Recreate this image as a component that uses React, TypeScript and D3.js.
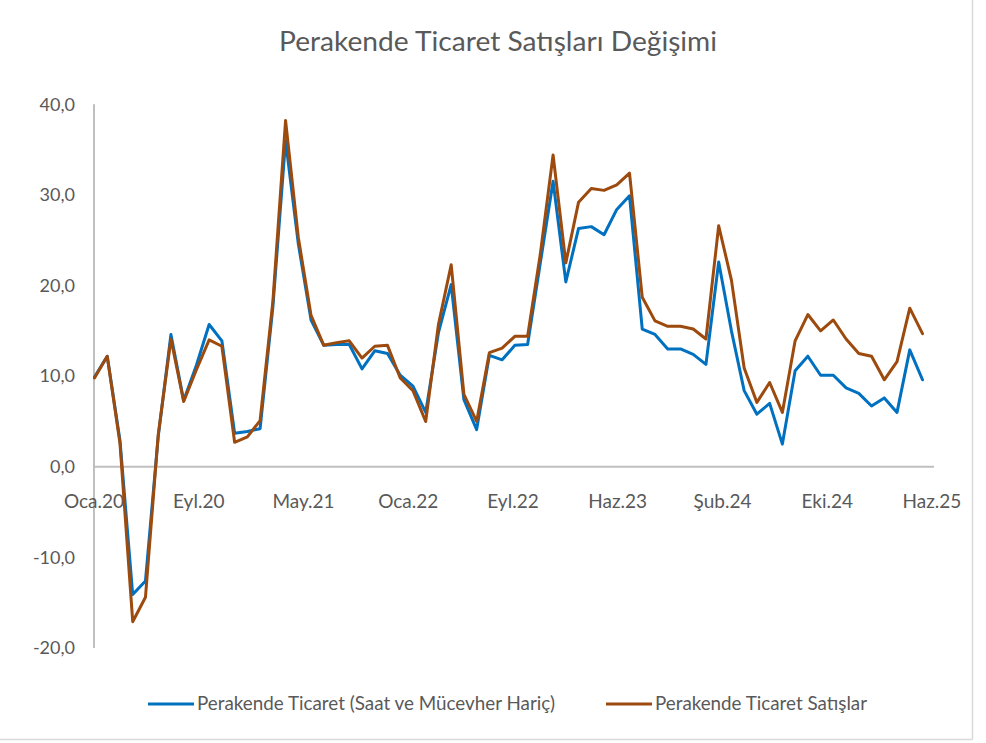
import React from "react";
import * as d3 from "d3";

const categories: string[] = [
  "Oca.20","Şub.20","Mar.20","Nis.20","May.20","Haz.20","Tem.20","Ağu.20","Eyl.20","Eki.20","Kas.20","Ara.20",
  "Oca.21","Şub.21","Mar.21","Nis.21","May.21","Haz.21","Tem.21","Ağu.21","Eyl.21","Eki.21","Kas.21","Ara.21",
  "Oca.22","Şub.22","Mar.22","Nis.22","May.22","Haz.22","Tem.22","Ağu.22","Eyl.22","Eki.22","Kas.22","Ara.22",
  "Oca.23","Şub.23","Mar.23","Nis.23","May.23","Haz.23","Tem.23","Ağu.23","Eyl.23","Eki.23","Kas.23","Ara.23",
  "Oca.24","Şub.24","Mar.24","Nis.24","May.24","Haz.24","Tem.24","Ağu.24","Eyl.24","Eki.24","Kas.24","Ara.24",
  "Oca.25","Şub.25","Mar.25","Nis.25","May.25","Haz.25",
];

const haricValues: number[] = [
  9.9, 12.2, 2.9, -14.1, -12.6, 3.3, 14.6, 7.3, 11.2, 15.7,
  13.9, 3.7, 3.9, 4.2, 17.6, 36.0, 24.6, 16.2, 13.4, 13.5,
  13.5, 10.8, 12.8, 12.5, 10.1, 8.9, 6.0, 14.8, 20.1, 7.4,
  4.1, 12.3, 11.8, 13.4, 13.5, 22.5, 31.5, 20.4, 26.3, 26.5,
  25.6, 28.4, 29.9, 15.2, 14.6, 13.0, 13.0, 12.4, 11.3, 22.6,
  15.0, 8.4, 5.8, 7.0, 2.5, 10.6, 12.2, 10.1, 10.1, 8.7,
  8.1, 6.7, 7.6, 6.0, 12.9, 9.6,
];

const satisValues: number[] = [
  9.8, 12.2, 2.6, -17.1, -14.4, 3.5, 14.1, 7.2, 10.7, 14.0,
  13.3, 2.7, 3.3, 5.1, 18.2, 38.2, 25.3, 16.7, 13.4, 13.7,
  13.9, 12.0, 13.3, 13.4, 9.8, 8.4, 5.0, 15.7, 22.3, 8.0,
  5.0, 12.6, 13.1, 14.4, 14.4, 23.5, 34.4, 22.5, 29.2, 30.7,
  30.5, 31.1, 32.4, 18.7, 16.1, 15.5, 15.5, 15.2, 14.1, 26.6,
  20.6, 10.9, 7.1, 9.3, 6.0, 13.9, 16.8, 15.0, 16.2, 14.1,
  12.5, 12.2, 9.6, 11.6, 17.5, 14.7,
];

const xTickLabels: string[] = ["Oca.20","Eyl.20","May.21","Oca.22","Eyl.22","Haz.23","Şub.24","Eki.24","Haz.25"];
const yTicks: number[] = [40, 30, 20, 10, 0, -10, -20];

const seriesNames: string[] = [
  "Perakende Ticaret (Saat ve Mücevher Hariç)",
  "Perakende Ticaret Satışlar",
];

const title = "Perakende Ticaret Satışları Değişimi";

const W = 986;
const H = 743;
const FONT = "Lato, 'Open Sans', sans-serif";
const TEXT = "#595959";
const AXIS = "#BFBFBF";
const BORDER = "#D9D9D9";
const BLUE = "#0070C0";
const BROWN = "#9C4A0E";

export default function App() {
  const x = d3.scalePoint<string>().domain(categories).range([94.5, 922.5]);
  const xLab = d3.scalePoint<string>().domain(xTickLabels).range([94, 932]);
  const y = d3.scaleLinear().domain([-20, 40]).range([648, 104.3]);

  const line = d3
    .line<number>()
    .x((_, i) => x(categories[i]) as number)
    .y((d) => y(d));

  const fmt = (v: number) => v.toFixed(1).replace(".", ",");

  return (
    <svg
      width={W}
      height={H}
      style={{ position: "absolute", left: 0, top: 0, background: "#fff" }}
      fontFamily={FONT}
    >
      <rect x={0} y={0} width={W} height={H} fill="#fff" />
      {/* chart area border (right and bottom visible) */}
      <line x1={972.5} x2={972.5} y1={0} y2={739.5} stroke={BORDER} strokeWidth={1.5} />
      <line x1={0} x2={972.5} y1={739.5} y2={739.5} stroke={BORDER} strokeWidth={1.5} />

      <text
        x={498}
        y={51}
        textAnchor="middle"
        fontSize={26}
        fill={TEXT}
        textLength={438}
        lengthAdjust="spacingAndGlyphs"
      >
        {title}
      </text>

      {/* y axis */}
      <line x1={94} x2={94} y1={y(40)} y2={y(-20)} stroke={AXIS} strokeWidth={2} />
      {yTicks.map((t) => (
        <text key={t} x={75} y={y(t)} dy="0.35em" textAnchor="end" fontSize={18} fill={TEXT}>
          {fmt(t)}
        </text>
      ))}

      {/* x axis */}
      <line x1={94} x2={934} y1={y(0)} y2={y(0)} stroke={AXIS} strokeWidth={2} />
      {xTickLabels.map((t) => (
        <text key={t} x={xLab(t)} y={508} textAnchor="middle" fontSize={19} fill={TEXT}>
          {t}
        </text>
      ))}

      <path
        d={line(haricValues) || ""}
        fill="none"
        stroke={BLUE}
        strokeWidth={3}
        strokeLinejoin="round"
        strokeLinecap="round"
      />
      <path
        d={line(satisValues) || ""}
        fill="none"
        stroke={BROWN}
        strokeWidth={3}
        strokeLinejoin="round"
        strokeLinecap="round"
      />

      {/* legend */}
      <line x1={148} x2={194} y1={704} y2={704} stroke={BLUE} strokeWidth={3} />
      <text x={197} y={710} fontSize={19} fill={TEXT} textLength={358} lengthAdjust="spacingAndGlyphs">
        {seriesNames[0]}
      </text>
      <line x1={606} x2={652} y1={704} y2={704} stroke={BROWN} strokeWidth={3} />
      <text x={655} y={710} fontSize={19} fill={TEXT} textLength={212} lengthAdjust="spacingAndGlyphs">
        {seriesNames[1]}
      </text>
    </svg>
  );
}
